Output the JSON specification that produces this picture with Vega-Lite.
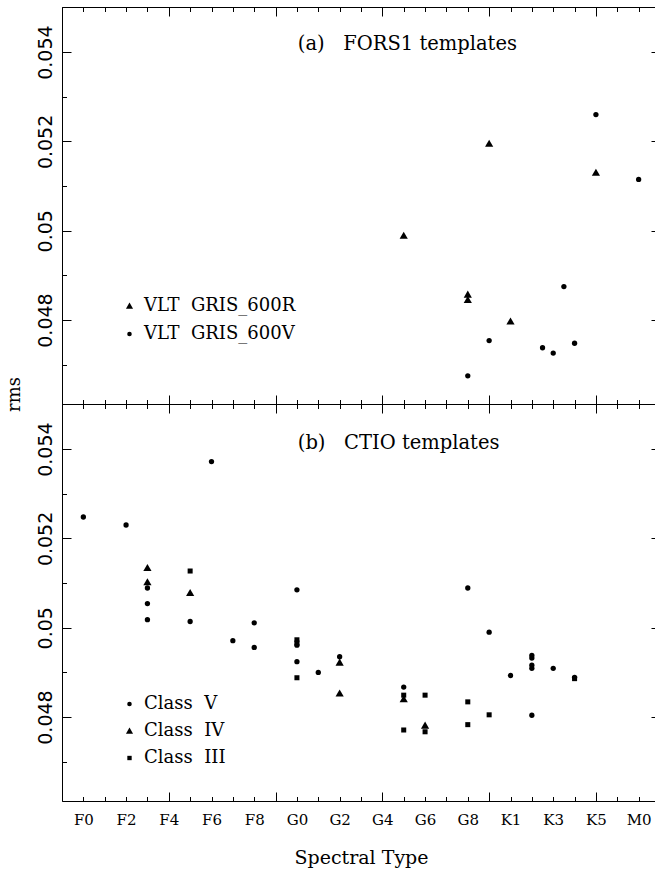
{
  "$schema": "https://vega.github.io/schema/vega-lite/v6.json",
  "background": "white",
  "padding": {"left": 5, "top": 6, "right": 0, "bottom": 0},
  "spacing": 0,
  "bounds": "flush",
  "config": {
    "view": {"stroke": "black", "strokeWidth": 1},
    "axis": {"domain": false, "grid": false, "tickColor": "black", "tickWidth": 1, "labelColor": "black", "titleColor": "black", "titleFontWeight": "normal"}
  },
  "datasets": {
    "fors1": [
      {"sp": 16, "rms": 0.04989, "grism": "VLT  GRIS_600R"},
      {"sp": 20, "rms": 0.05195, "grism": "VLT  GRIS_600R"},
      {"sp": 25, "rms": 0.05130, "grism": "VLT  GRIS_600R"},
      {"sp": 19, "rms": 0.04857, "grism": "VLT  GRIS_600R"},
      {"sp": 19, "rms": 0.04845, "grism": "VLT  GRIS_600R"},
      {"sp": 21, "rms": 0.04797, "grism": "VLT  GRIS_600R"},
      {"sp": 25, "rms": 0.05260, "grism": "VLT  GRIS_600V"},
      {"sp": 27, "rms": 0.05115, "grism": "VLT  GRIS_600V"},
      {"sp": 23.5, "rms": 0.04875, "grism": "VLT  GRIS_600V"},
      {"sp": 20, "rms": 0.04754, "grism": "VLT  GRIS_600V"},
      {"sp": 22.5, "rms": 0.04738, "grism": "VLT  GRIS_600V"},
      {"sp": 23, "rms": 0.04726, "grism": "VLT  GRIS_600V"},
      {"sp": 24, "rms": 0.04748, "grism": "VLT  GRIS_600V"},
      {"sp": 19, "rms": 0.04675, "grism": "VLT  GRIS_600V"}
    ],
    "ctio": [
      {"sp": 1, "rms": 0.05248, "lclass": "Class  V"},
      {"sp": 3, "rms": 0.05230, "lclass": "Class  V"},
      {"sp": 7, "rms": 0.05372, "lclass": "Class  V"},
      {"sp": 4, "rms": 0.05089, "lclass": "Class  V"},
      {"sp": 4, "rms": 0.05054, "lclass": "Class  V"},
      {"sp": 4, "rms": 0.05018, "lclass": "Class  V"},
      {"sp": 6, "rms": 0.05014, "lclass": "Class  V"},
      {"sp": 8, "rms": 0.04971, "lclass": "Class  V"},
      {"sp": 9, "rms": 0.05011, "lclass": "Class  V"},
      {"sp": 9, "rms": 0.04956, "lclass": "Class  V"},
      {"sp": 11, "rms": 0.05085, "lclass": "Class  V"},
      {"sp": 11, "rms": 0.04961, "lclass": "Class  V"},
      {"sp": 11, "rms": 0.04924, "lclass": "Class  V"},
      {"sp": 12, "rms": 0.04900, "lclass": "Class  V"},
      {"sp": 13, "rms": 0.04935, "lclass": "Class  V"},
      {"sp": 16, "rms": 0.04867, "lclass": "Class  V"},
      {"sp": 19, "rms": 0.05089, "lclass": "Class  V"},
      {"sp": 20, "rms": 0.04990, "lclass": "Class  V"},
      {"sp": 21, "rms": 0.04893, "lclass": "Class  V"},
      {"sp": 22, "rms": 0.04938, "lclass": "Class  V"},
      {"sp": 22, "rms": 0.04932, "lclass": "Class  V"},
      {"sp": 22, "rms": 0.04916, "lclass": "Class  V"},
      {"sp": 22, "rms": 0.04909, "lclass": "Class  V"},
      {"sp": 22, "rms": 0.04804, "lclass": "Class  V"},
      {"sp": 23, "rms": 0.04909, "lclass": "Class  V"},
      {"sp": 24, "rms": 0.04889, "lclass": "Class  V"},
      {"sp": 4, "rms": 0.05134, "lclass": "Class  IV"},
      {"sp": 4, "rms": 0.05102, "lclass": "Class  IV"},
      {"sp": 6, "rms": 0.05078, "lclass": "Class  IV"},
      {"sp": 13, "rms": 0.04922, "lclass": "Class  IV"},
      {"sp": 13, "rms": 0.04853, "lclass": "Class  IV"},
      {"sp": 16, "rms": 0.04840, "lclass": "Class  IV"},
      {"sp": 17, "rms": 0.04781, "lclass": "Class  IV"},
      {"sp": 6, "rms": 0.05127, "lclass": "Class  III"},
      {"sp": 11, "rms": 0.04973, "lclass": "Class  III"},
      {"sp": 11, "rms": 0.04966, "lclass": "Class  III"},
      {"sp": 11, "rms": 0.04888, "lclass": "Class  III"},
      {"sp": 16, "rms": 0.04849, "lclass": "Class  III"},
      {"sp": 16, "rms": 0.04771, "lclass": "Class  III"},
      {"sp": 17, "rms": 0.04849, "lclass": "Class  III"},
      {"sp": 17, "rms": 0.04767, "lclass": "Class  III"},
      {"sp": 19, "rms": 0.04834, "lclass": "Class  III"},
      {"sp": 19, "rms": 0.04783, "lclass": "Class  III"},
      {"sp": 20, "rms": 0.04805, "lclass": "Class  III"},
      {"sp": 24, "rms": 0.04886, "lclass": "Class  III"}
    ]
  },
  "vconcat": [
    {
      "width": 598,
      "height": 397,
      "data": {"name": "fors1"},
      "layer": [
        {
          "mark": {"type": "point", "filled": true, "color": "black", "opacity": 1, "size": 28},
          "encoding": {
            "x": {"field": "sp", "type": "quantitative", "scale": {"domain": [0, 28], "nice": false, "zero": false},
              "axis": {"orient": "bottom", "values": [0,1,2,3,4,5,6,7,8,9,10,11,12,13,14,15,16,17,18,19,20,21,22,23,24,25,26,27,28], "labels": false, "title": null,
                "tickSize": {"condition": {"test": "datum.value % 5 === 0", "value": -9}, "value": -4.5}}},
            "y": {"field": "rms", "type": "quantitative", "scale": {"domain": [0.04612, 0.05501], "nice": false, "zero": false},
              "axis": {"orient": "left", "values": [0.047,0.048,0.049,0.05,0.051,0.052,0.053,0.054,0.055],
                "tickSize": {"condition": {"test": "round(datum.value*1000) % 2 == 0", "value": -9}, "value": -4.5},
                "labelExpr": "round(datum.value*1000) % 2 == 0 ? format(datum.value, '.3~f') : ''",
                "labelAngle": 270, "labelAlign": "center", "labelBaseline": "alphabetic", "labelPadding": 20,
                "labelFont": "DejaVu Sans", "labelFontSize": 19, "labelOverlap": false, "labelFlush": false, "labelBound": false,
                "title": "rms", "titleFont": "DejaVu Serif", "titleFontSize": 18, "titleAngle": 270,
                "titleX": -42.3, "titleY": 387, "titleAlign": "center", "titleBaseline": "alphabetic"}},
            "shape": {"field": "grism", "type": "nominal",
              "scale": {"domain": ["VLT  GRIS_600R", "VLT  GRIS_600V"], "range": ["M0,-1.5L1.55,1.2L-1.55,1.2Z", "circle"]},
              "legend": {"orient": "none", "legendX": 58.5, "legendY": 290, "title": null, "padding": 0,
                "symbolSize": 21, "symbolFillColor": "black", "symbolStrokeColor": "black", "symbolStrokeWidth": 0, "labelOffset": 5.5, "rowPadding": 10,
                "labelFont": "DejaVu Serif", "labelFontSize": 18, "labelColor": "black",
                "labelExpr": "replace(datum.label, '  ', '\u00a0\u00a0')"}}
          }
        },
        {
          "mark": {"type": "point", "opacity": 0},
          "encoding": {
            "x": {"field": "sp", "type": "quantitative",
              "axis": {"orient": "top", "values": [0,1,2,3,4,5,6,7,8,9,10,11,12,13,14,15,16,17,18,19,20,21,22,23,24,25,26,27,28], "labels": false, "title": null,
                "tickSize": {"condition": {"test": "datum.value % 5 === 0", "value": -9}, "value": -4.5}}},
            "y": {"field": "rms", "type": "quantitative",
              "axis": {"orient": "right", "values": [0.047,0.048,0.049,0.05,0.051,0.052,0.053,0.054,0.055], "labels": false, "title": null,
                "tickSize": {"condition": {"test": "round(datum.value*1000) % 2 == 0", "value": -9}, "value": -4.5}}}
          }
        },
        {
          "data": {"values": [{}]},
          "mark": {"type": "text", "align": "left", "baseline": "alphabetic", "font": "DejaVu Serif", "fontSize": 19.5, "color": "black"},
          "encoding": {
            "x": {"datum": 11.04, "type": "quantitative", "axis": null},
            "y": {"datum": 0.05404, "type": "quantitative", "axis": null},
            "text": {"value": "(a)\u00a0\u00a0\u00a0FORS1 templates"}
          }
        }
      ],
      "resolve": {"axis": {"x": "independent", "y": "independent"}}
    },
    {
      "width": 598,
      "height": 397,
      "data": {"name": "ctio"},
      "layer": [
        {
          "mark": {"type": "point", "filled": true, "color": "black", "opacity": 1, "size": 28},
          "encoding": {
            "x": {"field": "sp", "type": "quantitative", "scale": {"domain": [0, 28], "nice": false, "zero": false},
              "axis": {"orient": "bottom", "values": [0,1,2,3,4,5,6,7,8,9,10,11,12,13,14,15,16,17,18,19,20,21,22,23,24,25,26,27,28],
                "tickSize": {"condition": {"test": "datum.value % 5 === 0", "value": -9}, "value": -4.5},
                "labelExpr": "datum.value % 2 == 1 ? ['F0','F2','F4','F6','F8','G0','G2','G4','G6','G8','K1','K3','K5','M0'][(datum.value - 1) / 2] : ''",
                "labelFont": "DejaVu Serif", "labelFontSize": 15, "labelBaseline": "alphabetic", "labelAlign": "center",
                "labelPadding": {"condition": {"test": "datum.value % 5 === 0", "value": 32.6}, "value": 28.1},
                "labelOverlap": false, "labelFlush": false, "labelBound": false,
                "title": "Spectral Type", "titleFont": "DejaVu Serif", "titleFontSize": 19, "titleBaseline": "alphabetic", "titleY": 62}},
            "y": {"field": "rms", "type": "quantitative", "scale": {"domain": [0.04612, 0.05501], "nice": false, "zero": false},
              "axis": {"orient": "left", "values": [0.047,0.048,0.049,0.05,0.051,0.052,0.053,0.054,0.055],
                "tickSize": {"condition": {"test": "round(datum.value*1000) % 2 == 0", "value": -9}, "value": -4.5},
                "labelExpr": "round(datum.value*1000) % 2 == 0 ? format(datum.value, '.3~f') : ''",
                "labelAngle": 270, "labelAlign": "center", "labelBaseline": "alphabetic", "labelPadding": 20,
                "labelFont": "DejaVu Sans", "labelFontSize": 19, "labelOverlap": false, "labelFlush": false, "labelBound": false,
                "title": null}},
            "shape": {"field": "lclass", "type": "nominal",
              "scale": {"domain": ["Class  V", "Class  IV", "Class  III"], "range": ["circle", "M0,-1.5L1.55,1.2L-1.55,1.2Z", "M-0.95,-0.95H0.95V0.95H-0.95Z"]},
              "legend": {"orient": "none", "legendX": 58.5, "legendY": 291, "title": null, "padding": 0,
                "symbolSize": 21, "symbolFillColor": "black", "symbolStrokeColor": "black", "symbolStrokeWidth": 0, "labelOffset": 5.5, "rowPadding": 9,
                "labelFont": "DejaVu Serif", "labelFontSize": 18, "labelColor": "black",
                "labelExpr": "replace(datum.label, '  ', '\u00a0\u00a0')"}}
          }
        },
        {
          "mark": {"type": "point", "opacity": 0},
          "encoding": {
            "x": {"field": "sp", "type": "quantitative",
              "axis": {"orient": "top", "values": [0,1,2,3,4,5,6,7,8,9,10,11,12,13,14,15,16,17,18,19,20,21,22,23,24,25,26,27,28], "labels": false, "title": null,
                "tickSize": {"condition": {"test": "datum.value % 5 === 0", "value": -9}, "value": -4.5}}},
            "y": {"field": "rms", "type": "quantitative",
              "axis": {"orient": "right", "values": [0.047,0.048,0.049,0.05,0.051,0.052,0.053,0.054,0.055], "labels": false, "title": null,
                "tickSize": {"condition": {"test": "round(datum.value*1000) % 2 == 0", "value": -9}, "value": -4.5}}}
          }
        },
        {
          "data": {"values": [{}]},
          "mark": {"type": "text", "align": "left", "baseline": "alphabetic", "font": "DejaVu Serif", "fontSize": 19.5, "color": "black"},
          "encoding": {
            "x": {"datum": 11.04, "type": "quantitative", "axis": null},
            "y": {"datum": 0.05401, "type": "quantitative", "axis": null},
            "text": {"value": "(b)\u00a0\u00a0\u00a0CTIO templates"}
          }
        }
      ],
      "resolve": {"axis": {"x": "independent", "y": "independent"}}
    }
  ],
  "resolve": {"scale": {"shape": "independent"}, "legend": {"shape": "independent"}}
}
